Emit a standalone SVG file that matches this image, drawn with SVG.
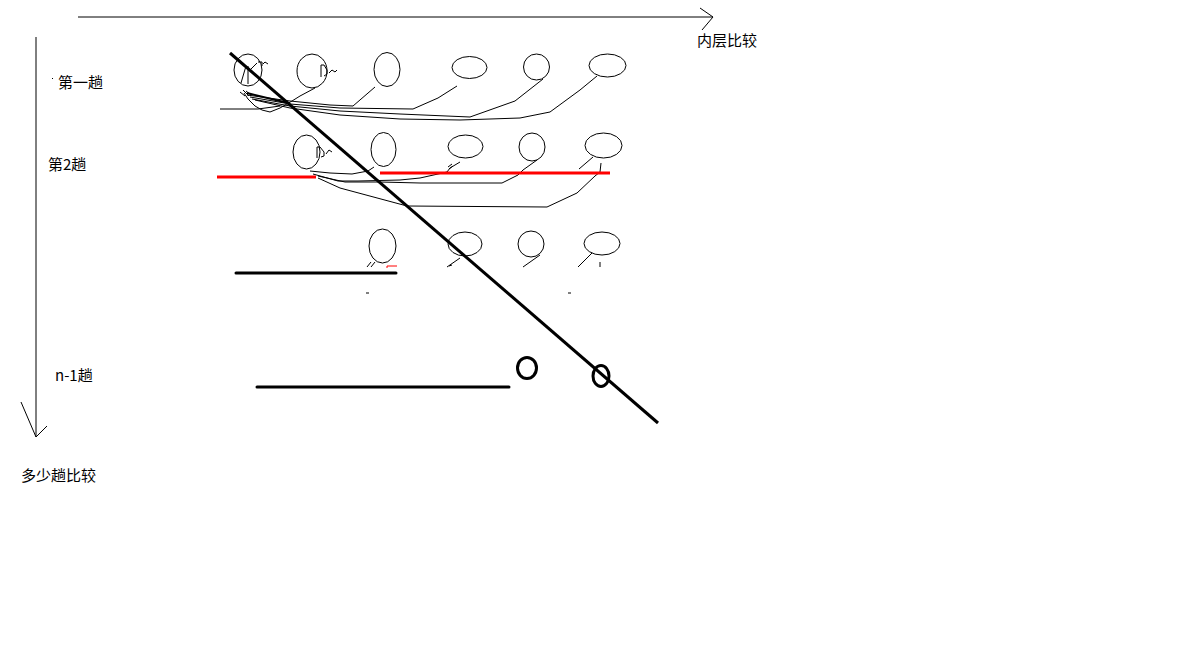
<svg xmlns="http://www.w3.org/2000/svg" width="1183" height="649" viewBox="0 0 1183 649">
<style>
.t{font-family:"Noto Sans CJK SC","Liberation Sans",sans-serif;font-size:15px;fill:#000}
.n{fill:none;stroke:#000;stroke-width:1}
.w{fill:none;stroke:#000;stroke-width:1;stroke-linejoin:round}
.k{fill:none;stroke:#000;stroke-width:3;stroke-linecap:round}
.r{fill:none;stroke:#f00;stroke-width:3}
.r1{fill:none;stroke:#f00;stroke-width:1}
</style>
<rect width="1183" height="649" fill="#fff"/>
<g id="axes">
<path class="n" d="M78,17 L713,17 M700,8 L713,17 L702,30"/>
<path class="n" d="M36,37 L36,437 M21,402 L36,437 L47,426"/>
</g>
<g id="labels">
<text class="t" x="697" y="46">内层比较</text>
<rect x="52" y="78" width="1" height="1" fill="#000"/>
<text class="t" x="58" y="88">第一趟</text>
<text class="t" x="48" y="170">第2趟</text>
<text class="t" x="55" y="381">n-1趟</text>
<text class="t" x="21" y="481">多少趟比较</text>
</g>
<g id="row1">
<g id="r1c1"><ellipse class="n" cx="248" cy="70" rx="14" ry="16"/><path class="w" d="M241,83 L246,66 M248,66 L248,84 M250,70 L257,63 M258,62 L262,62 L262,66 M263,64 L265,62 L268,64"/></g>
<g id="r1c2"><ellipse class="n" cx="312" cy="71" rx="15" ry="17"/><path class="w" d="M321,77 L321,65 L324,65 L327,70 L327,74 L324,76 M329,73 L332,70 L335,72 L337,70"/></g>
<g id="r1c3"><ellipse class="n" cx="387" cy="69.5" rx="13" ry="17"/></g>
<g id="r1c4"><ellipse class="n" cx="469.5" cy="67.5" rx="17.5" ry="11"/></g>
<g id="r1c5"><ellipse class="n" cx="536.5" cy="67" rx="13" ry="13"/></g>
<g id="r1c6"><ellipse class="n" cx="607.5" cy="65.5" rx="18.5" ry="11.5"/></g>
</g>
<g id="row2">
<g id="r2c1"><ellipse class="n" cx="306.5" cy="152" rx="13.5" ry="17"/><path class="w" d="M317,158 L317,147 L320,147 L324,152 L324,156 L321,157 M326,154 L329,150 L332,152"/></g>
<g id="r2c2"><ellipse class="n" cx="383.5" cy="149.5" rx="12.5" ry="17"/></g>
<g id="r2c3"><ellipse class="n" cx="465.5" cy="146.5" rx="17.5" ry="11.5"/></g>
<g id="r2c4"><ellipse class="n" cx="532" cy="147" rx="13" ry="14"/></g>
<g id="r2c5"><ellipse class="n" cx="603.5" cy="145.5" rx="18.5" ry="12.5"/></g>
</g>
<g id="row3">
<g id="r3c1"><ellipse class="n" cx="382.5" cy="246" rx="13.5" ry="17"/></g>
<g id="r3c2"><ellipse class="n" cx="465" cy="244" rx="17" ry="12"/></g>
<g id="r3c3"><ellipse class="n" cx="531" cy="244" rx="13" ry="13"/></g>
<g id="r3c4"><ellipse class="n" cx="602" cy="243.5" rx="18" ry="11.5"/></g>
</g>
<g id="rowN">
<g id="rNc1"><ellipse cx="527" cy="368" rx="9.5" ry="10.5" fill="none" stroke="#000" stroke-width="3"/></g>
<g id="rNc2"><ellipse cx="601" cy="376" rx="8" ry="10.5" fill="none" stroke="#000" stroke-width="3"/></g>
</g>
<g id="connectors">
<!-- row 1 -->
<path class="w" d="M220,109 L258,109 L280,106"/>
<path class="w" d="M315,88 L300,96 L292,101 L280,108 L270,112 L262,110 L255,106 L248,99 L244,93"/>
<path class="w" d="M375,87 L353,106 L330,105 L290,101 L247,95"/>
<path class="w" d="M457,86 L438,98 L413,109 L340,108 L290,104 L250,97"/>
<path class="w" d="M543,79 L515,101 L470,117 L400,114 L340,111 L290,106 L252,99"/>
<path class="w" d="M597,76 L580,90 L550,112 L520,118 L460,120 L400,119 L340,115 L290,108 L255,100"/>
<path fill="none" stroke="#000" stroke-width="2" d="M247,93 L288,103"/>
<path class="w" d="M240,92 L245,96 M243,90 L249,96 M246,91 L251,95"/>
<!-- row 2 -->
<path class="w" d="M374,167 L368,171 L352,174 L330,173 L310,171"/>
<path class="w" d="M460,162 L450,168 L447,172 L420,178 L400,180 L358,181 L338,181 L313,174"/>
<path class="w" d="M448,167 L452,164 M449,169 L453,166"/>
<path class="w" d="M537,160 L523,170 L518,175 L502,183 L420,183 L380,182 L345,182 L318,176"/>
<path class="w" d="M601,163 L600,172 L595,176 L577,193 L547,207 L407,206 L340,188 L318,178"/>
<path class="w" d="M593,157 L579,169"/>
<path class="r" d="M217,177 L316,177"/>
<path class="r" d="M380,173 L610,173"/>
<!-- row 3 -->
<path class="k" d="M236,273 L396,273"/>
<path class="w" d="M367,267 L371,262 M371,267 L375,262"/>
<path class="r1" d="M387,268 L387,266 L397,266"/>
<path class="w" d="M460,258 L447,267 M449,266 L452,265"/>
<path class="w" d="M540,255 L523,267"/>
<path class="w" d="M592,253 L578,267 M600,262 L600,267"/>
<path class="w" d="M366,293 L369,293 M568,293 L571,293"/>
<!-- row n-1 -->
<path class="k" d="M257,387 L509,387"/>
<!-- diagonal -->
<path fill="none" stroke="#000" stroke-width="3" d="M230,53 L658,423"/>
</g>
</svg>
